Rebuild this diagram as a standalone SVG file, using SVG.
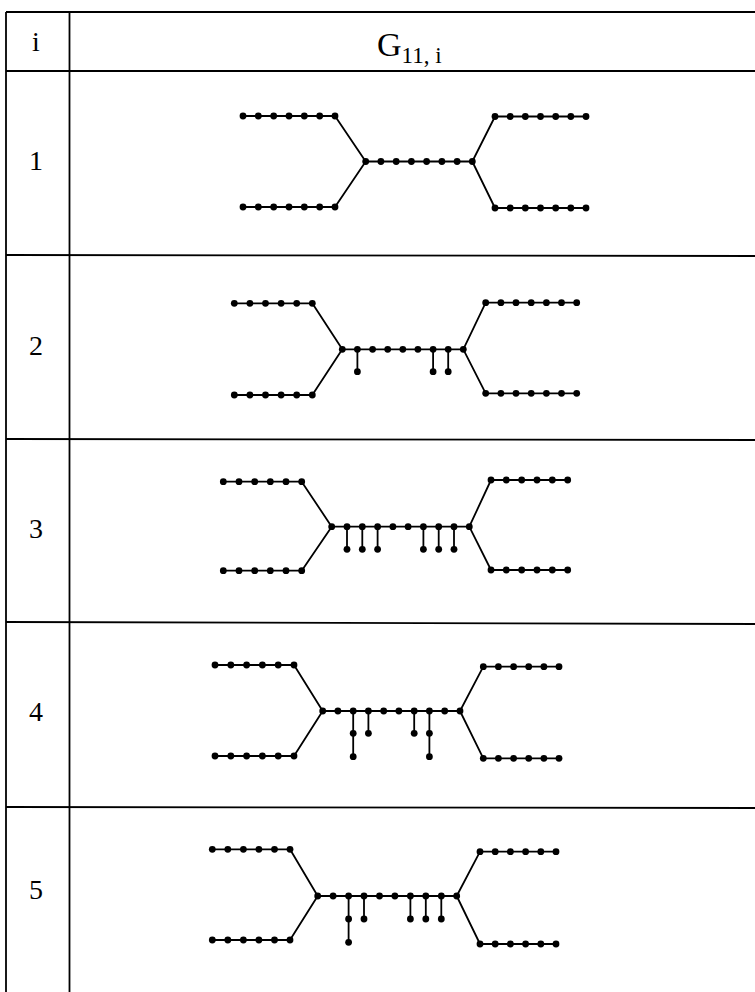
<svg xmlns="http://www.w3.org/2000/svg" width="755" height="992" viewBox="0 0 755 992">
<style>
.tbl{stroke:#000;stroke-width:1.8;fill:none}
.e{stroke:#000;stroke-width:1.8;fill:none;stroke-linejoin:round}
.n{fill:#000}
.n circle{r:3.4px}
.lbl{font-family:"Liberation Serif","DejaVu Serif",serif;font-size:28px;fill:#000}
.hd{font-family:"Liberation Serif","DejaVu Serif",serif;fill:#000}
</style>
<rect width="755" height="992" fill="#fff"/>
<g id="table">
<line class="tbl" x1="6" y1="12" x2="755" y2="12"/>
<line class="tbl" x1="6" y1="12" x2="6" y2="992"/>
<line class="tbl" x1="69.5" y1="12" x2="69.5" y2="992"/>
<line class="tbl" x1="6" y1="71" x2="755" y2="71"/>
<line class="tbl" x1="6" y1="255" x2="755" y2="256"/>
<line class="tbl" x1="6" y1="439" x2="755" y2="440"/>
<line class="tbl" x1="6" y1="622" x2="755" y2="624"/>
<line class="tbl" x1="6" y1="807" x2="755" y2="808"/>
</g>
<g id="header">
<text class="lbl" x="36" y="51" text-anchor="middle">i</text>
<text class="hd" x="377" y="56" font-size="34">G<tspan font-size="23" dy="7">11, i</tspan></text>
</g>
<g id="labels">
<text class="lbl" x="36" y="170" text-anchor="middle">1</text>
<text class="lbl" x="36" y="355" text-anchor="middle">2</text>
<text class="lbl" x="36" y="538" text-anchor="middle">3</text>
<text class="lbl" x="36" y="721" text-anchor="middle">4</text>
<text class="lbl" x="36" y="899" text-anchor="middle">5</text>
</g>
<g id="connectors">
<polyline class="e" points="243,116 335,116 365.7,161.5 472.3,161.5 495,116.5 586,116.5"/>
<polyline class="e" points="243,207 335,207 365.7,161.5"/>
<polyline class="e" points="472.3,161.5 495,208 586,208"/>
<polyline class="e" points="234.3,303.3 312.3,303.3 342.3,349.3 463.3,349.3 485.7,302.7 576.7,302.7"/>
<polyline class="e" points="234.3,395 312.3,395 342.3,349.3"/>
<polyline class="e" points="463.3,349.3 485.7,393.3 576.7,393.3"/>
<path class="e" d="M357.4,349.3V371.7M433.1,349.3V371.7M448.2,349.3V371.7"/>
<polyline class="e" points="223.3,481.7 301.7,481.7 331.7,526.7 469.3,526.7 491,480 567.7,480"/>
<polyline class="e" points="223.3,570.7 301.7,570.7 331.7,526.7"/>
<polyline class="e" points="469.3,526.7 491,570 567.7,570"/>
<path class="e" d="M347,526.7V549.3M362.3,526.7V549.3M377.6,526.7V549.3M423.4,526.7V549.3M438.7,526.7V549.3M454,526.7V549.3"/>
<polyline class="e" points="215,665 294,665 322.7,711 460,711 483.3,666.7 559,666.7"/>
<polyline class="e" points="215,756 294,756 322.7,711"/>
<polyline class="e" points="460,711 483.3,758.3 559,758.3"/>
<path class="e" d="M353.2,711V756.7M368.4,711V733.3M414.2,711V733.3M429.4,711V756.7"/>
<polyline class="e" points="212.3,849.3 290,849.3 317.7,896 456.7,896 480,851.7 556,851.7"/>
<polyline class="e" points="212.3,940 290,940 317.7,896"/>
<polyline class="e" points="456.7,896 480,944 556,944"/>
<path class="e" d="M348.6,896V942.3M364,896V919M410.4,896V919M425.8,896V919M441.3,896V919"/>
</g>
<g id="graph1" class="n">
<g id="r1-tl"><circle cx="243" cy="116" r="3.4"/><circle cx="258.3" cy="116" r="3.4"/><circle cx="273.7" cy="116" r="3.4"/><circle cx="289" cy="116" r="3.4"/><circle cx="304.3" cy="116" r="3.4"/><circle cx="319.7" cy="116" r="3.4"/><circle cx="335" cy="116" r="3.4"/></g>
<g id="r1-bl"><circle cx="243" cy="207" r="3.4"/><circle cx="258.3" cy="207" r="3.4"/><circle cx="273.7" cy="207" r="3.4"/><circle cx="289" cy="207" r="3.4"/><circle cx="304.3" cy="207" r="3.4"/><circle cx="319.7" cy="207" r="3.4"/><circle cx="335" cy="207" r="3.4"/></g>
<g id="r1-mid"><circle cx="365.7" cy="161.5" r="3.4"/><circle cx="380.9" cy="161.5" r="3.4"/><circle cx="396.2" cy="161.5" r="3.4"/><circle cx="411.4" cy="161.5" r="3.4"/><circle cx="426.6" cy="161.5" r="3.4"/><circle cx="441.9" cy="161.5" r="3.4"/><circle cx="457.1" cy="161.5" r="3.4"/><circle cx="472.3" cy="161.5" r="3.4"/></g>
<g id="r1-tr"><circle cx="495" cy="116.5" r="3.4"/><circle cx="510.2" cy="116.5" r="3.4"/><circle cx="525.3" cy="116.5" r="3.4"/><circle cx="540.5" cy="116.5" r="3.4"/><circle cx="555.7" cy="116.5" r="3.4"/><circle cx="570.8" cy="116.5" r="3.4"/><circle cx="586" cy="116.5" r="3.4"/></g>
<g id="r1-br"><circle cx="495" cy="208" r="3.4"/><circle cx="510.2" cy="208" r="3.4"/><circle cx="525.3" cy="208" r="3.4"/><circle cx="540.5" cy="208" r="3.4"/><circle cx="555.7" cy="208" r="3.4"/><circle cx="570.8" cy="208" r="3.4"/><circle cx="586" cy="208" r="3.4"/></g>
</g>
<g id="graph2" class="n">
<g id="r2-tl"><circle cx="234.3" cy="303.3" r="3.4"/><circle cx="249.9" cy="303.3" r="3.4"/><circle cx="265.5" cy="303.3" r="3.4"/><circle cx="281.1" cy="303.3" r="3.4"/><circle cx="296.7" cy="303.3" r="3.4"/><circle cx="312.3" cy="303.3" r="3.4"/></g>
<g id="r2-bl"><circle cx="234.3" cy="395" r="3.4"/><circle cx="249.9" cy="395" r="3.4"/><circle cx="265.5" cy="395" r="3.4"/><circle cx="281.1" cy="395" r="3.4"/><circle cx="296.7" cy="395" r="3.4"/><circle cx="312.3" cy="395" r="3.4"/></g>
<g id="r2-mid"><circle cx="342.3" cy="349.3" r="3.4"/><circle cx="357.4" cy="349.3" r="3.4"/><circle cx="372.6" cy="349.3" r="3.4"/><circle cx="387.7" cy="349.3" r="3.4"/><circle cx="402.8" cy="349.3" r="3.4"/><circle cx="417.9" cy="349.3" r="3.4"/><circle cx="433.1" cy="349.3" r="3.4"/><circle cx="448.2" cy="349.3" r="3.4"/><circle cx="463.3" cy="349.3" r="3.4"/></g>
<g id="r2-pend"><circle cx="357.4" cy="371.7" r="3.4"/><circle cx="433.1" cy="371.7" r="3.4"/><circle cx="448.2" cy="371.7" r="3.4"/></g>
<g id="r2-tr"><circle cx="485.7" cy="302.7" r="3.4"/><circle cx="500.9" cy="302.7" r="3.4"/><circle cx="516" cy="302.7" r="3.4"/><circle cx="531.2" cy="302.7" r="3.4"/><circle cx="546.4" cy="302.7" r="3.4"/><circle cx="561.5" cy="302.7" r="3.4"/><circle cx="576.7" cy="302.7" r="3.4"/></g>
<g id="r2-br"><circle cx="485.7" cy="393.3" r="3.4"/><circle cx="500.9" cy="393.3" r="3.4"/><circle cx="516" cy="393.3" r="3.4"/><circle cx="531.2" cy="393.3" r="3.4"/><circle cx="546.4" cy="393.3" r="3.4"/><circle cx="561.5" cy="393.3" r="3.4"/><circle cx="576.7" cy="393.3" r="3.4"/></g>
</g>
<g id="graph3" class="n">
<g id="r3-tl"><circle cx="223.3" cy="481.7" r="3.4"/><circle cx="239" cy="481.7" r="3.4"/><circle cx="254.7" cy="481.7" r="3.4"/><circle cx="270.3" cy="481.7" r="3.4"/><circle cx="286" cy="481.7" r="3.4"/><circle cx="301.7" cy="481.7" r="3.4"/></g>
<g id="r3-bl"><circle cx="223.3" cy="570.7" r="3.4"/><circle cx="239" cy="570.7" r="3.4"/><circle cx="254.7" cy="570.7" r="3.4"/><circle cx="270.3" cy="570.7" r="3.4"/><circle cx="286" cy="570.7" r="3.4"/><circle cx="301.7" cy="570.7" r="3.4"/></g>
<g id="r3-mid"><circle cx="331.7" cy="526.7" r="3.4"/><circle cx="347" cy="526.7" r="3.4"/><circle cx="362.3" cy="526.7" r="3.4"/><circle cx="377.6" cy="526.7" r="3.4"/><circle cx="392.9" cy="526.7" r="3.4"/><circle cx="408.1" cy="526.7" r="3.4"/><circle cx="423.4" cy="526.7" r="3.4"/><circle cx="438.7" cy="526.7" r="3.4"/><circle cx="454" cy="526.7" r="3.4"/><circle cx="469.3" cy="526.7" r="3.4"/></g>
<g id="r3-pend"><circle cx="347" cy="549.3" r="3.4"/><circle cx="362.3" cy="549.3" r="3.4"/><circle cx="377.6" cy="549.3" r="3.4"/><circle cx="423.4" cy="549.3" r="3.4"/><circle cx="438.7" cy="549.3" r="3.4"/><circle cx="454" cy="549.3" r="3.4"/></g>
<g id="r3-tr"><circle cx="491" cy="480" r="3.4"/><circle cx="506.3" cy="480" r="3.4"/><circle cx="521.7" cy="480" r="3.4"/><circle cx="537" cy="480" r="3.4"/><circle cx="552.3" cy="480" r="3.4"/><circle cx="567.7" cy="480" r="3.4"/></g>
<g id="r3-br"><circle cx="491" cy="570" r="3.4"/><circle cx="506.3" cy="570" r="3.4"/><circle cx="521.7" cy="570" r="3.4"/><circle cx="537" cy="570" r="3.4"/><circle cx="552.3" cy="570" r="3.4"/><circle cx="567.7" cy="570" r="3.4"/></g>
</g>
<g id="graph4" class="n">
<g id="r4-tl"><circle cx="215" cy="665" r="3.4"/><circle cx="230.8" cy="665" r="3.4"/><circle cx="246.6" cy="665" r="3.4"/><circle cx="262.4" cy="665" r="3.4"/><circle cx="278.2" cy="665" r="3.4"/><circle cx="294" cy="665" r="3.4"/></g>
<g id="r4-bl"><circle cx="215" cy="756" r="3.4"/><circle cx="230.8" cy="756" r="3.4"/><circle cx="246.6" cy="756" r="3.4"/><circle cx="262.4" cy="756" r="3.4"/><circle cx="278.2" cy="756" r="3.4"/><circle cx="294" cy="756" r="3.4"/></g>
<g id="r4-mid"><circle cx="322.7" cy="711" r="3.4"/><circle cx="337.9" cy="711" r="3.4"/><circle cx="353.2" cy="711" r="3.4"/><circle cx="368.4" cy="711" r="3.4"/><circle cx="383.7" cy="711" r="3.4"/><circle cx="398.9" cy="711" r="3.4"/><circle cx="414.2" cy="711" r="3.4"/><circle cx="429.4" cy="711" r="3.4"/><circle cx="444.7" cy="711" r="3.4"/><circle cx="460" cy="711" r="3.4"/></g>
<g id="r4-pend"><circle cx="353.2" cy="733.3" r="3.4"/><circle cx="353.2" cy="756.7" r="3.4"/><circle cx="368.4" cy="733.3" r="3.4"/><circle cx="414.2" cy="733.3" r="3.4"/><circle cx="429.4" cy="733.3" r="3.4"/><circle cx="429.4" cy="756.7" r="3.4"/></g>
<g id="r4-tr"><circle cx="483.3" cy="666.7" r="3.4"/><circle cx="498.4" cy="666.7" r="3.4"/><circle cx="513.6" cy="666.7" r="3.4"/><circle cx="528.7" cy="666.7" r="3.4"/><circle cx="543.9" cy="666.7" r="3.4"/><circle cx="559" cy="666.7" r="3.4"/></g>
<g id="r4-br"><circle cx="483.3" cy="758.3" r="3.4"/><circle cx="498.4" cy="758.3" r="3.4"/><circle cx="513.6" cy="758.3" r="3.4"/><circle cx="528.7" cy="758.3" r="3.4"/><circle cx="543.9" cy="758.3" r="3.4"/><circle cx="559" cy="758.3" r="3.4"/></g>
</g>
<g id="graph5" class="n">
<g id="r5-tl"><circle cx="212.3" cy="849.3" r="3.4"/><circle cx="227.8" cy="849.3" r="3.4"/><circle cx="243.4" cy="849.3" r="3.4"/><circle cx="258.9" cy="849.3" r="3.4"/><circle cx="274.5" cy="849.3" r="3.4"/><circle cx="290" cy="849.3" r="3.4"/></g>
<g id="r5-bl"><circle cx="212.3" cy="940" r="3.4"/><circle cx="227.8" cy="940" r="3.4"/><circle cx="243.4" cy="940" r="3.4"/><circle cx="258.9" cy="940" r="3.4"/><circle cx="274.5" cy="940" r="3.4"/><circle cx="290" cy="940" r="3.4"/></g>
<g id="r5-mid"><circle cx="317.7" cy="896" r="3.4"/><circle cx="333.1" cy="896" r="3.4"/><circle cx="348.6" cy="896" r="3.4"/><circle cx="364" cy="896" r="3.4"/><circle cx="379.5" cy="896" r="3.4"/><circle cx="394.9" cy="896" r="3.4"/><circle cx="410.4" cy="896" r="3.4"/><circle cx="425.8" cy="896" r="3.4"/><circle cx="441.3" cy="896" r="3.4"/><circle cx="456.7" cy="896" r="3.4"/></g>
<g id="r5-pend"><circle cx="348.6" cy="919" r="3.4"/><circle cx="348.6" cy="942.3" r="3.4"/><circle cx="364" cy="919" r="3.4"/><circle cx="410.4" cy="919" r="3.4"/><circle cx="425.8" cy="919" r="3.4"/><circle cx="441.3" cy="919" r="3.4"/></g>
<g id="r5-tr"><circle cx="480" cy="851.7" r="3.4"/><circle cx="495.2" cy="851.7" r="3.4"/><circle cx="510.4" cy="851.7" r="3.4"/><circle cx="525.6" cy="851.7" r="3.4"/><circle cx="540.8" cy="851.7" r="3.4"/><circle cx="556" cy="851.7" r="3.4"/></g>
<g id="r5-br"><circle cx="480" cy="944" r="3.4"/><circle cx="495.2" cy="944" r="3.4"/><circle cx="510.4" cy="944" r="3.4"/><circle cx="525.6" cy="944" r="3.4"/><circle cx="540.8" cy="944" r="3.4"/><circle cx="556" cy="944" r="3.4"/></g>
</g>
</svg>
